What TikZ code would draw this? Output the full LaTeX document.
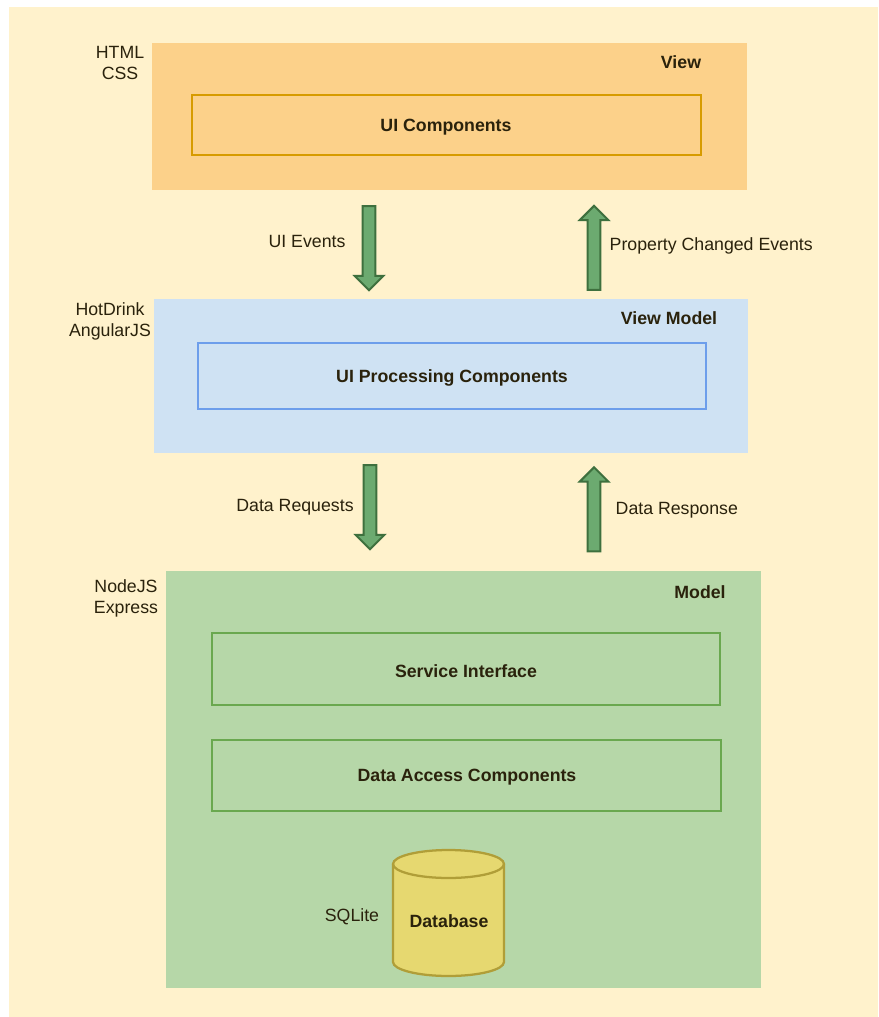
\documentclass[tikz,border=0pt]{standalone}
\usepackage{xcolor}
\usepackage{tikz}
\usepackage{fontspec}
\setmainfont{Liberation Sans}
\usetikzlibrary{shapes,arrows,positioning,fit}
\definecolor{canvas}{RGB}{255,242,204}
\definecolor{viewfill}{RGB}{252,209,138}
\definecolor{viewline}{RGB}{215,155,0}
\definecolor{vmfill}{RGB}{207,226,243}
\definecolor{vmline}{RGB}{109,158,235}
\definecolor{modelfill}{RGB}{182,215,168}
\definecolor{modelline}{RGB}{106,168,79}
\definecolor{dbfill}{RGB}{230,216,112}
\definecolor{dbline}{RGB}{176,158,56}
\definecolor{arrowfill}{RGB}{108,170,112}
\definecolor{arrowline}{RGB}{62,112,62}
\definecolor{ink}{RGB}{42,34,12}

\begin{document}
\begin{tikzpicture}[
    x=0.75pt, y=-0.75pt,
    every node/.style={text=ink, font=\fontsize{13.3pt}{15.75pt}\selectfont},
    layer/.style={rectangle, inner sep=0pt},
    viewlayer/.style={layer, fill=viewfill},
    vmlayer/.style={layer, fill=vmfill},
    modellayer/.style={layer, fill=modelfill},
    part/.style={rectangle, inner sep=0pt, line width=1.7pt},
    viewpart/.style={part, draw=viewline, fill=viewfill},
    vmpart/.style={part, draw=vmline, fill=vmfill},
    modelpart/.style={part, draw=modelline, fill=modelfill},
    title/.style={font=\bfseries\fontsize{13.3pt}{15.75pt}\selectfont},
    tech/.style={align=center},
    flowarrow/.style={single arrow, draw=arrowline, fill=arrowfill, line width=1.5pt,
        minimum height=63pt, minimum width=20pt, single arrow head extend=6pt,
        inner xsep=0pt, inner ysep=4pt},
    down/.style={flowarrow, rotate=-90},
    up/.style={flowarrow, rotate=90}
]
    \useasboundingbox (0,0) rectangle (878,1017);
    \fill[canvas] (9,7) rectangle (878,1017);

    \node[viewlayer, fit={(152,43) (747,190)}] (view) {};
    \node[viewpart, fit={(192,95) (701,155)}] (uicomp) {};
    \node[title] (viewtitle) at (681,62) {View};
    \node[title] (uicomplabel) at (446,127) {UI Components};
    \node[tech] (viewtech) at (120,63) {HTML\\CSS};

    \node[down] (uievents) at (369,245) {};
    \node[up] (propchanged) at (594,251) {};
    \node (uieventslabel) at (307,241) {UI Events};
    \node[anchor=west] (propchangedlabel) at (605,246) {Property Changed Events};

    \node[vmlayer, fit={(154,299) (748,453)}] (viewmodel) {};
    \node[vmpart, fit={(198,343) (706,409)}] (uiproc) {};
    \node[title] (vmtitle) at (669,318) {View Model};
    \node[title] (uiproclabel) at (452,378) {UI Processing Components};
    \node[tech] (vmtech) at (110,321) {HotDrink\\AngularJS};

    \node[down] (datareq) at (370,504) {};
    \node[up] (dataresp) at (594,512.5) {};
    \node (datareqlabel) at (295,507) {Data Requests};
    \node[anchor=west] (dataresplabel) at (611,510) {Data Response};

    \node[modellayer, fit={(166,571) (761,988)}] (model) {};
    \node[modelpart, fit={(212,633) (720,705)}] (service) {};
    \node[modelpart, fit={(212,740) (721,811)}] (dataaccess) {};
    \node[title] (modeltitle) at (700,592) {Model};
    \node[title] (servicelabel) at (466,671) {Service Interface};
    \node[title] (dataaccesslabel) at (467,777) {Data Access Components};
    \node[tech] (modeltech) at (126,598) {NodeJS\\Express};

    \draw[line width=1.7pt, draw=dbline, fill=dbfill]
        (393,864) -- (393,962) arc[start angle=180, end angle=0, x radius=55.5, y radius=14]
        -- (504,864) arc[start angle=360, end angle=180, x radius=55.5, y radius=14] -- cycle;
    \draw[line width=1.7pt, draw=dbline]
        (393,864) arc[start angle=180, end angle=0, x radius=55.5, y radius=14];
    \node[title] (db) at (449,921) {Database};
    \node (dbtech) at (352,917) {SQLite};
\end{tikzpicture}
\end{document}
